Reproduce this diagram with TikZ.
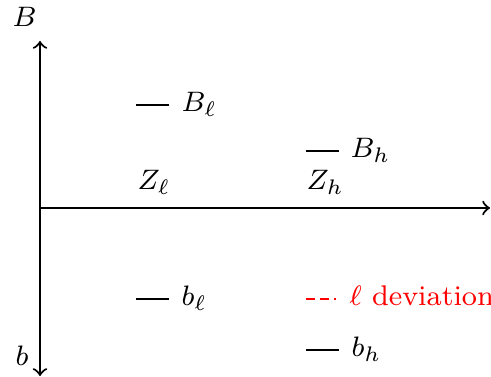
\documentclass[tikz,border=0pt]{standalone}
\usepackage{fontspec}
\usetikzlibrary{positioning}
\begin{document}
\begin{tikzpicture}[x=0.01cm, y=-0.01cm]
  \tikzset{
    axisline/.style={semithick, ->},
    sample/.style={semithick},
    lbl/.style={anchor=base west, inner sep=0pt, font=\fontsize{8.1}{10}\selectfont},
  }
  \useasboundingbox (0,0) rectangle (491,377);

  % Assi
  \coordinate (O) at (40,208);
  \coordinate (top) at (40,41);
  \coordinate (bot) at (40,376);
  \coordinate (right) at (490,208);
  \draw[axisline] (O) -- (top);
  \draw[axisline] (O) -- (bot);
  \draw[axisline] (O) -- (right);
  \node[lbl] (B) at (12,27) {$B$};
  \node[lbl] (b) at (15,366) {$b$};

  % Etichette Z
  \node[lbl] (Zl) at (137,190) {$Z_\ell$};
  \node[lbl] (Zh) at (306,190) {$Z_h$};

  % Livelli
  \node[lbl] (Bl) at (181,112) {$B_\ell$};
  \node[lbl] (Bh) at (350,158) {$B_h$};
  \node[lbl] (bl) at (181,306) {$b_\ell$};
  \node[lbl] (bh) at (351,357) {$b_h$};
  \node[lbl, red] (dev) at (349,306) {$\ell$ deviation};

  % Segmenti
  \draw[sample] (Bl.base west) ++(-45,-7) -- ++(33,0);
  \draw[sample] (Bh.base west) ++(-44,-7) -- ++(33,0);
  \draw[sample] (bl.base west) ++(-45,-7) -- ++(33,0);
  \draw[sample] (bh.base west) ++(-45,-7) -- ++(33,0);
  \draw[sample, red, dash pattern=on 2.5pt off 1.5pt] (dev.base west) ++(-43,-7) -- ++(30,0);

\end{tikzpicture}
\end{document}
